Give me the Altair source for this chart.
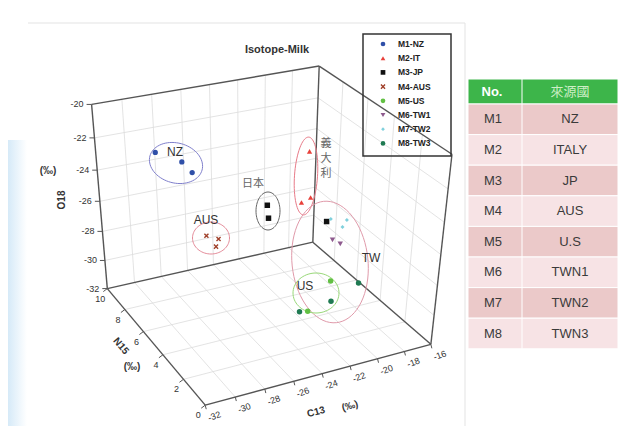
import altair as alt
import numpy as np
import pandas as pd

# ---------------- data ----------------
series = ["M1-NZ", "M2-IT", "M3-JP", "M4-AUS", "M5-US", "M6-TW1", "M7-TW2", "M8-TW3"]
series_colors = ["#2f4fa8", "#e8403a", "#111111", "#a0402a", "#62c043", "#8e5a8e", "#7fd0dc", "#1f7a52"]
series_shapes = ["circle", "triangle-up", "square", "M-0.8,-0.8L0.8,0.8M-0.8,0.8L0.8,-0.8",
                 "circle", "triangle-down", "diamond", "circle"]
series_sizes = [28, 28, 30, 26, 30, 30, 16, 30]

sample_series = ["M1-NZ", "M1-NZ", "M1-NZ", "M2-IT", "M2-IT", "M2-IT", "M3-JP", "M3-JP", "M3-JP",
                 "M4-AUS", "M4-AUS", "M4-AUS", "M5-US", "M5-US", "M6-TW1", "M6-TW1",
                 "M7-TW2", "M7-TW2", "M7-TW2", "M8-TW3", "M8-TW3", "M8-TW3"]
c13_values = [-28.6, -26.8, -26.1, -18.3, -18.8, -18.1, -21.4, -21.3, -20.0,
              -25.2, -24.3, -24.5, -20.9, -22.5, -19.5, -18.9,
              -19.7, -18.5, -18.8, -20.8, -18.8, -23.1]
n15_values = [9, 9, 9, 8, 8, 8, 8, 8, 4.5,
              9, 9, 9, 3, 3, 4.5, 4.5,
              4.5, 4.5, 4.5, 3, 3, 3]
o18_values = [-22.9, -23.8, -24.6, -24.0, -27.3, -27.1, -27.0, -27.9, -26.1,
              -29.0, -29.4, -29.9, -28.8, -30.5, -27.4, -27.8,
              -26.0, -26.3, -26.7, -30.2, -29.4, -30.4]

table_no = ["M1", "M2", "M3", "M4", "M5", "M6", "M7", "M8"]
table_country = ["NZ", "ITALY", "JP", "AUS", "U.S", "TWN1", "TWN2", "TWN3"]

c13_ticks = [-32, -30, -28, -26, -24, -22, -20, -18, -16]
n15_ticks = [0, 2, 4, 6, 8, 10]
o18_ticks = [-32, -30, -28, -26, -24, -22, -20]

# ---------------- projection (layout: screen corners of the 3D box) ----------------
CW = [(-32, 10, -32), (-16, 10, -32), (-16, 0, -32), (-32, 0, -32),
      (-32, 10, -20), (-16, 10, -20), (-16, 0, -20)]
CP = [(108, 290), (313, 243), (432, 342), (203, 405), (93, 103), (317, 65), (453, 157)]
S = 500.0


def nrm(c, n, o):
    return np.array([(c + 32) / 16.0, n / 10.0, (o + 32) / 12.0, 1.0])


A = []
for (c, n, o), (u, v) in zip(CW, CP):
    Xv = nrm(c, n, o)
    A.append(np.concatenate([Xv, np.zeros(4), -(u / S) * Xv]))
    A.append(np.concatenate([np.zeros(4), Xv, -(v / S) * Xv]))
P = np.linalg.svd(np.array(A))[2][-1].reshape(3, 4)


def proj(c, n, o):
    h = P @ nrm(c, n, o)
    return S * h[0] / h[2], S * h[1] / h[2]


XS = alt.Scale(domain=[8, 629], nice=False, zero=False)
YS = alt.Scale(domain=[8, 426], nice=False, zero=False, reverse=True)


def ex(f="x"):
    return alt.X(f"{f}:Q", scale=XS, axis=None)


def ey(f="y"):
    return alt.Y(f"{f}:Q", scale=YS, axis=None)


def seg_df(segs):
    rows = []
    for a, b in segs:
        x1, y1 = proj(*a)
        x2, y2 = proj(*b)
        rows.append({"x": x1, "y": y1, "x2": x2, "y2": y2})
    return pd.DataFrame(rows)


def rules(df, color, width):
    return alt.Chart(df).mark_rule(color=color, strokeWidth=width).encode(
        x=ex(), y=ey(), x2="x2:Q", y2="y2:Q")


# grid
grid = []
for c in c13_ticks[1:-1]:
    grid.append(((c, 10, -32), (c, 10, -20)))
    grid.append(((c, 0, -32), (c, 10, -32)))
for o in o18_ticks[1:-1]:
    grid.append(((-32, 10, o), (-16, 10, o)))
    grid.append(((-16, 0, o), (-16, 10, o)))
for n in n15_ticks[1:-1]:
    grid.append(((-16, n, -32), (-16, n, -20)))
    grid.append(((-32, n, -32), (-16, n, -32)))
edges = [
    ((-32, 10, -32), (-32, 10, -20)), ((-32, 10, -20), (-16, 10, -20)),
    ((-32, 10, -32), (-16, 10, -32)), ((-16, 10, -32), (-16, 10, -20)),
    ((-16, 10, -20), (-16, 0, -20)), ((-16, 0, -20), (-16, 0, -32)),
    ((-16, 10, -32), (-16, 0, -32)), ((-32, 0, -32), (-32, 10, -32)),
    ((-32, 0, -32), (-16, 0, -32)),
]

# ticks and labels
tick_rows, lab_rows = [], []
for o in o18_ticks:
    u, v = proj(-32, 10, o)
    tick_rows.append({"x": u, "y": v, "x2": u - 5, "y2": v})
    lab_rows.append({"x": u - 8, "y": v, "t": str(o), "k": "o"})
for n in n15_ticks:
    u, v = proj(-32, n, -32)
    tick_rows.append({"x": u, "y": v, "x2": u - 4, "y2": v + 3})
    lab_rows.append({"x": u - 7, "y": v + 10, "t": str(n), "k": "n"})
for c in c13_ticks:
    u, v = proj(c, 0, -32)
    tick_rows.append({"x": u, "y": v, "x2": u + 1, "y2": v + 4})
    lab_rows.append({"x": u + 9, "y": v + 11, "t": str(c), "k": "c"})
ticks_df = pd.DataFrame(tick_rows)
labs_df = pd.DataFrame(lab_rows)

# points
cmap = dict(zip(series, series_colors))
smap = dict(zip(series, series_shapes))
zmap = dict(zip(series, series_sizes))
prow = []
for s_, c, n, o in zip(sample_series, c13_values, n15_values, o18_values):
    x, y = proj(c, n, o)
    prow.append({"s": s_, "x": x, "y": y, "col": cmap[s_], "shp": smap[s_], "sz": zmap[s_]})
pdf = pd.DataFrame(prow)


def point_layers(df, fsize=1.0):
    enc = dict(x=ex(), y=ey(), color=alt.Color("col:N", scale=None),
               shape=alt.Shape("shp:N", scale=None), size=alt.Size("sz:Q", scale=None))
    a = alt.Chart(df[df.s != "M4-AUS"]).mark_point(filled=True, opacity=1).encode(**enc)
    b = alt.Chart(df[df.s == "M4-AUS"]).mark_point(filled=False, strokeWidth=1.4, opacity=1).encode(**enc)
    return a, b


pts_fill, pts_x = point_layers(pdf)

# ellipses (annotation)
ell = [("NZ", 176, 163, 27, 20, 15, "#8080cc"), ("IT", 306, 176, 11.5, 39, 4, "#e87a88"),
       ("JP", 268, 211, 12, 19, 0, "#666666"), ("AUS", 211, 238, 18.5, 16, 0, "#e48a98"),
       ("TW", 330, 262, 38, 61, -6, "#e09aaa"), ("US", 316, 293, 23, 20, 0, "#98d878")]
erows = []
for g, cx, cy, rx, ry, ang, ec in ell:
    ph = np.radians(ang)
    for i, th in enumerate(np.linspace(0, 2 * np.pi, 73)):
        erows.append({"g": g, "i": i, "col": ec,
                      "x": cx + rx * np.cos(th) * np.cos(ph) - ry * np.sin(th) * np.sin(ph),
                      "y": cy + rx * np.cos(th) * np.sin(ph) + ry * np.sin(th) * np.cos(ph)})
ellipses = alt.Chart(pd.DataFrame(erows)).mark_line(strokeWidth=1).encode(
    x=ex(), y=ey(), detail="g:N", order="i:Q", color=alt.Color("col:N", scale=None))

FONT = "Liberation Sans"
CJK = "Noto Sans CJK TC"


def txt(rows, **kw):
    return alt.Chart(pd.DataFrame(rows)).mark_text(**kw).encode(x=ex(), y=ey(), text="t:N")


ann = txt([{"x": 175, "y": 152, "t": "NZ"}, {"x": 206, "y": 220, "t": "AUS"},
           {"x": 371, "y": 258, "t": "TW"}, {"x": 305, "y": 286, "t": "US"}],
          font=FONT, fontSize=12, color="#333333")
ann_cjk = txt([{"x": 253, "y": 184, "t": "日本"}, {"x": 326, "y": 144, "t": "義"},
               {"x": 326, "y": 159, "t": "大"}, {"x": 326, "y": 174, "t": "利"}],
              font=CJK, fontSize=11, color="#666666")
title = txt([{"x": 277, "y": 50, "t": "Isotope-Milk"}], font=FONT, fontSize=11, fontWeight="bold", color="#333333")

lab_o = alt.Chart(labs_df[labs_df.k == "o"]).mark_text(font=FONT, fontSize=9, align="right", color="#333").encode(
    x=ex(), y=ey(), text="t:N")
lab_n = alt.Chart(labs_df[labs_df.k == "n"]).mark_text(font=FONT, fontSize=9, color="#333").encode(
    x=ex(), y=ey(), text="t:N")
lab_c = alt.Chart(labs_df[labs_df.k == "c"]).mark_text(font=FONT, fontSize=9, angle=340, color="#333").encode(
    x=ex(), y=ey(), text="t:N")

at_o = txt([{"x": 62, "y": 200, "t": "O18"}], font=FONT, fontSize=10, fontWeight="bold", angle=270, color="#333")
at_n = txt([{"x": 121, "y": 346, "t": "N15"}], font=FONT, fontSize=10, fontWeight="bold", angle=50, color="#333")
at_c = txt([{"x": 316, "y": 412, "t": "C13"}], font=FONT, fontSize=10, fontWeight="bold", angle=345, color="#333")
at_pm = txt([{"x": 48, "y": 171, "t": "(‰)"}, {"x": 132, "y": 367, "t": "(‰)"}],
            font=FONT, fontSize=10, fontWeight="bold", color="#333")
at_pm2 = txt([{"x": 350, "y": 406, "t": "(‰)"}], font=FONT, fontSize=10, fontWeight="bold", angle=345, color="#333")

# legend
LX, LY0, LDY = 383, 44, 14.2
leg_df = pd.DataFrame({"s": series, "x": [LX] * 8, "y": [LY0 + i * LDY for i in range(8)],
                       "tx": [LX + 15] * 8, "col": series_colors, "shp": series_shapes,
                       "sz": [22, 22, 22, 26, 22, 24, 14, 22]})
leg_box = alt.Chart(pd.DataFrame([{"x": 363, "y": 34, "x2": 451, "y2": 156}])).mark_rect(
    fillOpacity=0, stroke="#333", strokeWidth=1.5).encode(x=ex(), y=ey(), x2="x2:Q", y2="y2:Q")
leg_pts, leg_x = point_layers(leg_df)
leg_txt = alt.Chart(leg_df).mark_text(font=FONT, fontSize=8.5, fontWeight="bold", align="left", color="#222").encode(
    x=ex("tx"), y=ey(), text="s:N")

# table
TX0, TXM, TX1, TH0, TH1, RH = 468, 522, 618, 79, 104, 30.6
trow = [{"x": TX0, "x2": TX1, "y": TH0, "y2": TH1, "col": "#3db54a"}]
for i in range(8):
    trow.append({"x": TX0, "x2": TX1, "y": TH1 + i * RH, "y2": TH1 + (i + 1) * RH,
                 "col": "#ebc9c9" if i % 2 == 0 else "#f7e3e5"})
tdf = pd.DataFrame(trow)
table_bg = alt.Chart(tdf).mark_rect(stroke="white", strokeWidth=1).encode(
    x=ex(), y=ey(), x2="x2:Q", y2="y2:Q", color=alt.Color("col:N", scale=None))
table_sep = alt.Chart(pd.DataFrame([{"x": TXM, "y": TH0, "y2": TH1 + 8 * RH}])).mark_rule(
    color="white", strokeWidth=1).encode(x=ex(), y=ey(), y2="y2:Q")
tt = pd.DataFrame({"no": table_no, "ct": table_country, "y": [TH1 + (i + 0.5) * RH for i in range(8)],
                   "x": [493] * 8, "xc": [570] * 8})
t_no = alt.Chart(tt).mark_text(font=FONT, fontSize=13, color="#3a3a3a").encode(x=ex(), y=ey(), text="no:N")
t_ct = alt.Chart(tt).mark_text(font=FONT, fontSize=13, color="#3a3a3a").encode(x=ex("xc"), y=ey(), text="ct:N")
t_h1 = txt([{"x": 492, "y": 92, "t": "No."}], font=FONT, fontSize=13, fontWeight="bold", color="white")
t_h2 = txt([{"x": 570, "y": 92, "t": "來源國"}], font=CJK, fontSize=13, color="#cdeec6")

# frame
frame = rules(pd.DataFrame([{"x": 28, "y": 23, "x2": 465, "y2": 23}, {"x": 465, "y": 23, "x2": 465, "y2": 426}]),
              "#e3e3e3", 1)
bg = alt.Chart(pd.DataFrame([{"x": 8, "x2": 27, "y": 140, "y2": 426}])).mark_rect(
    color=alt.Gradient(gradient="linear", x1=1, x2=0, y1=0, y2=0,
                       stops=[alt.GradientStop(color="#ffffff", offset=0),
                              alt.GradientStop(color="#d6eaf8", offset=1)])).encode(
    x=ex(), y=ey(), x2="x2:Q", y2="y2:Q")

chart = alt.layer(
    bg, frame,
    rules(seg_df(grid), "#dcdcdc", 0.8),
    rules(seg_df(edges), "#555555", 1.4),
    rules(ticks_df, "#555555", 1),
    lab_o, lab_n, lab_c, at_o, at_n, at_c, at_pm, at_pm2,
    ellipses, pts_fill, pts_x, ann, ann_cjk, title,
    leg_box, leg_pts, leg_x, leg_txt,
    table_bg, table_sep, t_no, t_ct, t_h1, t_h2,
).properties(width=621, height=418, autosize=alt.AutoSizeParams(type="none"), padding=0,
             background="white").configure_view(strokeWidth=0)

chart.save("out.html", embed_options={"renderer": "svg", "actions": False})
